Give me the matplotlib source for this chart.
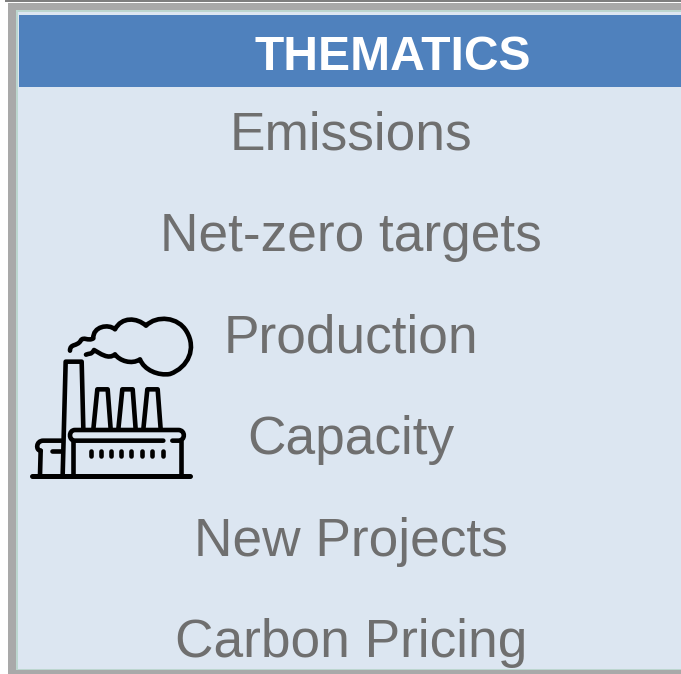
import matplotlib
matplotlib.use("Agg")
import matplotlib.pyplot as plt
from matplotlib.patches import Rectangle, PathPatch
from matplotlib.path import Path

title = "THEMATICS"
themes = ["Emissions", "Net-zero targets", "Production", "Capacity", "New Projects", "Carbon Pricing"]

plt.rcParams['font.family'] = ['Liberation Sans', 'DejaVu Sans']

fig = plt.figure(figsize=(6.81, 6.74), dpi=100)
ax = fig.add_axes([0, 0, 1, 1])
ax.set_xlim(0, 681)
ax.set_ylim(674, 0)
ax.axis('off')


def box(x0, y0, x1, y1, color, z=1):
    ax.add_patch(Rectangle((x0, y0), x1 - x0, y1 - y0, facecolor=color, edgecolor='none', zorder=z))


# --- frame and panel ---
box(5, 0, 681, 2, '#7f7f7f')
box(8, 3, 681, 674, '#a9a9a9')
box(16, 10, 681, 670, '#bcd6cf')
box(18, 12, 681, 669, '#dce6f1')
box(19, 15, 681, 87, '#4f81bd')

# --- text ---
ax.text(393, 58, title, ha='center', va='center', fontsize=34.6, fontweight='bold', color='white', zorder=3)
for i, t in enumerate(themes):
    ax.text(351, 130 + i * 101.6, t, ha='center', va='center_baseline', fontsize=38.3, color='#6f6f6f', zorder=3)


# --- factory icon, points are in 3x zoomed px around (20, 310) ---
def ic(p):
    return (20 + p[0] / 3, 310 + p[1] / 3)


def line(pts, lw=4.6):
    xs, ys = zip(*[ic(p) for p in pts])
    ax.plot(xs, ys, color='black', lw=lw * 0.72, solid_capstyle='round', solid_joinstyle='round', zorder=4)


def curve(start, segs, lw=4.6):
    verts = [ic(start)]
    codes = [Path.MOVETO]
    for s in segs:
        verts += [ic(p) for p in s]
        codes += [Path.CURVE4] * 3
    ax.add_patch(PathPatch(Path(verts, codes), facecolor='none', edgecolor='black', lw=lw * 0.72,
                           capstyle='round', joinstyle='round', zorder=4))


line([(35, 498), (510, 498)], 5)
line([(128, 495), (137, 155), (185, 155), (190, 358)])
for x in [220, 295, 370]:
    line([(x, 358), (x + 12, 238), (x + 43, 238), (x + 52, 358)])
# roof
curve((430, 392), [[(300, 392), (230, 392), (165, 392)], [(145, 392), (145, 360), (165, 360)],
                   [(300, 360), (400, 360), (475, 360)], [(497, 360), (497, 392), (475, 392)],
                   [(470, 392), (465, 392), (457, 392)]])
line([(160, 392), (160, 495)])
line([(482, 392), (482, 495)])
# small left building
curve((125, 392), [[(105, 392), (90, 392), (70, 392)], [(47, 392), (47, 422), (62, 422)]])
line([(62, 422), (60, 495)])
line([(97, 422), (125, 422)])
for x in [212, 243, 273, 303, 333, 365, 397, 428]:
    line([(x, 423), (x, 439)], 4.6)
# smoke
curve((150, 122), [[(150, 100), (172, 110), (182, 92)], [(190, 78), (205, 95), (220, 85)],
                   [(218, 50), (265, 40), (285, 58)], [(305, 20), (350, 22), (378, 47)],
                   [(410, 15), (475, 20), (500, 65)], [(530, 115), (505, 172), (450, 192)],
                   [(415, 198), (372, 180), (360, 148)], [(335, 165), (298, 152), (285, 133)],
                   [(265, 150), (240, 130), (222, 120)], [(215, 135), (205, 130), (198, 134)]])

plt.savefig("out.png", dpi=100)
